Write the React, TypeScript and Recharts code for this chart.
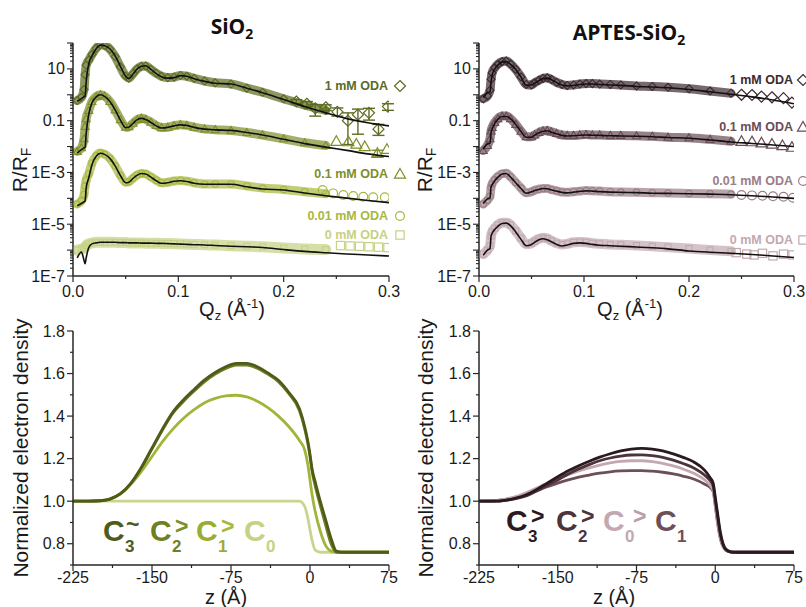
import { ComposedChart, Line, Scatter, XAxis, YAxis, ErrorBar } from "recharts";

// ---------- reflectivity (R/RF vs Qz), one Qz grid for both top panels ----------
const qGrid = [
  0.004, 0.008, 0.0105, 0.0115, 0.0125, 0.015, 0.018, 0.022, 0.026, 0.03, 0.035, 0.04, 0.045,
  0.05, 0.053, 0.057, 0.061, 0.065, 0.069, 0.074, 0.079, 0.084, 0.09, 0.096, 0.102, 0.108,
  0.115, 0.125, 0.135, 0.15, 0.165, 0.18, 0.2, 0.22, 0.24, 0.26, 0.28, 0.3,
];

// SiO2 fits (black lines)
const sioFit1 = [0.56, 0.71, 0.85, 0.89, 3.2, 16, 32, 60, 83, 79, 60, 32, 12.6, 5.2, 4.2, 6.3, 10, 12.6, 13.2, 9.5, 6.6, 5.0, 4.4, 4.6, 5.5, 5.2, 4.2, 3.3, 2.8, 2.6, 1.8, 1.2, 0.66, 0.35, 0.2, 0.12, 0.083, 0.063];
const sioFit01 = [5.6e-3, 7.6e-3, 8.9e-3, 9.5e-3, 0.032, 0.18, 0.48, 0.83, 1.0, 0.87, 0.55, 0.26, 0.105, 0.054, 0.056, 0.079, 0.11, 0.123, 0.112, 0.085, 0.063, 0.052, 0.055, 0.063, 0.069, 0.066, 0.055, 0.047, 0.044, 0.042, 0.035, 0.028, 0.019, 0.013, 9.5e-3, 7.1e-3, 5.2e-3, 4.1e-3];
const sioFit001 = [5.2e-5, 6.3e-5, 7.4e-5, 7.9e-5, 2.5e-4, 6.3e-4, 2.0e-3, 4.2e-3, 5.5e-3, 5.0e-3, 3.5e-3, 1.8e-3, 7.6e-4, 4.0e-4, 4.2e-4, 5.9e-4, 7.9e-4, 9.1e-4, 8.7e-4, 6.6e-4, 4.8e-4, 3.8e-4, 4.0e-4, 4.6e-4, 4.8e-4, 4.5e-4, 3.8e-4, 3.5e-4, 3.5e-4, 3.5e-4, 2.8e-4, 2.3e-4, 2.1e-4, 1.6e-4, 1.26e-4, 1.02e-4, 8.3e-5, 6.8e-5];
const sioFit0 = [5.0e-7, 8.5e-7, 4.0e-7, 3.0e-7, 5.0e-7, 1.26e-6, 1.74e-6, 1.9e-6, 2.0e-6, 2.0e-6, 2.0e-6, 2.0e-6, 1.95e-6, 1.95e-6, 1.9e-6, 1.9e-6, 1.9e-6, 1.86e-6, 1.86e-6, 1.86e-6, 1.82e-6, 1.82e-6, 1.78e-6, 1.74e-6, 1.7e-6, 1.66e-6, 1.62e-6, 1.58e-6, 1.51e-6, 1.41e-6, 1.35e-6, 1.26e-6, 1.05e-6, 8.9e-7, 7.9e-7, 7.1e-7, 6.5e-7, 5.9e-7];

// SiO2 measured points (dense band, up to Qz = 0.24)
const sioObs1 = [0.6, 0.8, 1.6, 6, 14, 22, 36, 62, 85, 80, 58, 30, 12, 5.3, 4.4, 6.5, 10, 12.6, 13, 9.5, 6.8, 5.2, 4.6, 4.8, 5.6, 5.2, 4.3, 3.4, 2.9, 2.6, 1.8, 1.25, 0.7, 0.4, 0.25];
const sioObs01 = [6.5e-3, 9e-3, 0.02, 0.06, 0.12, 0.25, 0.55, 0.85, 1.0, 0.88, 0.55, 0.26, 0.11, 0.056, 0.058, 0.08, 0.11, 0.125, 0.112, 0.087, 0.065, 0.054, 0.056, 0.064, 0.07, 0.066, 0.056, 0.048, 0.045, 0.042, 0.035, 0.028, 0.02, 0.014, 0.011];
const sioObs001 = [6e-5, 8e-5, 1.4e-4, 3e-4, 5e-4, 9e-4, 2.3e-3, 4.4e-3, 5.6e-3, 5.0e-3, 3.5e-3, 1.8e-3, 7.8e-4, 4.2e-4, 4.4e-4, 6e-4, 8e-4, 9.2e-4, 8.8e-4, 6.7e-4, 5e-4, 4e-4, 4.2e-4, 4.7e-4, 4.9e-4, 4.6e-4, 4e-4, 3.6e-4, 3.6e-4, 3.6e-4, 3e-4, 2.5e-4, 2.2e-4, 1.8e-4, 1.5e-4];
const sioObs0 = [1.0e-6, 1.1e-6, 1.2e-6, 1.3e-6, 1.5e-6, 1.75e-6, 1.9e-6, 2.0e-6, 2.0e-6, 2.0e-6, 2.0e-6, 2.0e-6, 1.95e-6, 1.95e-6, 1.9e-6, 1.9e-6, 1.9e-6, 1.87e-6, 1.86e-6, 1.85e-6, 1.83e-6, 1.82e-6, 1.8e-6, 1.77e-6, 1.74e-6, 1.7e-6, 1.66e-6, 1.62e-6, 1.56e-6, 1.48e-6, 1.42e-6, 1.35e-6, 1.2e-6, 1.1e-6, 1.05e-6];

// SiO2 high-Qz points (sparse, big open symbols)
const sioTail1 = [
  { q: 0.212, v: 0.55, e: [0.1, 0.1] }, { q: 0.222, v: 0.45, e: [0.1, 0.1] },
  { q: 0.23, v: 0.3, e: [0.15, 0.12] }, { q: 0.24, v: 0.33, e: [0.08, 0.08] },
  { q: 0.251, v: 0.22, e: [0.07, 0.09] }, { q: 0.261, v: 0.1, e: [0.088, 0.1] },
  { q: 0.2705, v: 0.17, e: [0.14, 0.11] }, { q: 0.281, v: 0.2, e: [0.095, 0.1] },
  { q: 0.29, v: 0.047, e: [0.02, 0.025] }, { q: 0.299, v: 0.35, e: [0.1, 0.1] },
];
const sioTail01 = [
  { q: 0.25, v: 0.016 }, { q: 0.2614, v: 0.0155 }, { q: 0.269, v: 0.0126 },
  { q: 0.277, v: 0.01 }, { q: 0.289, v: 0.0055, e: [0.0015, 0.0017] }, { q: 0.298, v: 0.0079 },
];
const sioTail001 = [
  { q: 0.237, v: 2.1e-4 }, { q: 0.247, v: 1.55e-4 }, { q: 0.2566, v: 1.35e-4 }, { q: 0.266, v: 1.23e-4 },
  { q: 0.2756, v: 1.15e-4 }, { q: 0.285, v: 1.1e-4 }, { q: 0.296, v: 1.1e-4 },
];
const sioTail0 = [
  { q: 0.254, v: 1.5e-6 }, { q: 0.263, v: 1.45e-6 }, { q: 0.272, v: 1.4e-6 },
  { q: 0.281, v: 1.35e-6 }, { q: 0.29, v: 1.3e-6 }, { q: 0.299, v: 1.25e-6 },
];

// APTES-SiO2 fits
const apFit1 = [0.79, 1.2, 1.3, 3.2, 5.6, 10, 14, 18.6, 19, 15, 9.5, 4.8, 2.3, 2.4, 2.8, 3.5, 4.2, 4.4, 3.8, 2.95, 2.4, 2.2, 2.3, 2.5, 2.6, 2.6, 2.5, 2.4, 2.3, 2.1, 2.0, 1.86, 1.6, 1.3, 1.05, 0.83, 0.63, 0.45];
const apFit01 = [7.9e-3, 0.0126, 0.0135, 0.035, 0.047, 0.079, 0.115, 0.145, 0.145, 0.12, 0.071, 0.038, 0.023, 0.023, 0.0275, 0.034, 0.039, 0.041, 0.036, 0.031, 0.027, 0.0257, 0.026, 0.0275, 0.028, 0.0275, 0.027, 0.026, 0.0257, 0.025, 0.024, 0.0224, 0.021, 0.018, 0.015, 0.0132, 0.0115, 0.01];
const apFit001 = [6.3e-5, 9.5e-5, 1.05e-4, 2.8e-4, 3.3e-4, 4.8e-4, 6.5e-4, 8.7e-4, 9.1e-4, 6.6e-4, 4.0e-4, 2.4e-4, 1.58e-4, 1.78e-4, 2.0e-4, 2.2e-4, 2.4e-4, 2.35e-4, 2.1e-4, 1.9e-4, 1.7e-4, 1.62e-4, 1.74e-4, 1.86e-4, 1.95e-4, 1.9e-4, 1.82e-4, 1.74e-4, 1.7e-4, 1.66e-4, 1.58e-4, 1.55e-4, 1.51e-4, 1.45e-4, 1.38e-4, 1.26e-4, 1.12e-4, 1.0e-4];
const apFit0 = [6.3e-7, 1.0e-6, 1.15e-6, 3.5e-6, 4.5e-6, 6.3e-6, 8.3e-6, 1.07e-5, 1.1e-5, 8.9e-6, 5.0e-6, 2.6e-6, 1.48e-6, 1.66e-6, 2.0e-6, 2.5e-6, 2.75e-6, 2.5e-6, 2.1e-6, 1.66e-6, 1.45e-6, 1.58e-6, 1.82e-6, 1.9e-6, 1.82e-6, 1.66e-6, 1.55e-6, 1.48e-6, 1.41e-6, 1.32e-6, 1.23e-6, 1.12e-6, 9.3e-7, 8.3e-7, 7.6e-7, 6.8e-7, 5.9e-7, 5.2e-7];

// APTES-SiO2 measured points
const apObs1 = [0.7, 0.9, 1.5, 4, 7, 11, 15, 19, 20, 15.5, 9.5, 4.9, 2.5, 2.4, 2.9, 3.6, 4.3, 4.5, 3.9, 3.0, 2.5, 2.3, 2.4, 2.6, 2.7, 2.7, 2.6, 2.5, 2.4, 2.2, 2.1, 1.95, 1.7, 1.4, 1.15];
const apObs01 = [7e-3, 0.011, 0.02, 0.04, 0.055, 0.085, 0.12, 0.15, 0.15, 0.12, 0.072, 0.039, 0.024, 0.024, 0.028, 0.035, 0.04, 0.042, 0.037, 0.032, 0.028, 0.027, 0.027, 0.028, 0.029, 0.028, 0.028, 0.027, 0.027, 0.026, 0.025, 0.023, 0.022, 0.019, 0.016];
const apObs001 = [6e-5, 8.5e-5, 1.2e-4, 2.6e-4, 3.6e-4, 5.2e-4, 7e-4, 9e-4, 9.3e-4, 6.8e-4, 4.1e-4, 2.5e-4, 1.65e-4, 1.8e-4, 2.05e-4, 2.25e-4, 2.4e-4, 2.4e-4, 2.15e-4, 1.95e-4, 1.75e-4, 1.7e-4, 1.8e-4, 1.9e-4, 2.0e-4, 1.95e-4, 1.9e-4, 1.8e-4, 1.75e-4, 1.7e-4, 1.65e-4, 1.6e-4, 1.55e-4, 1.5e-4, 1.45e-4];
const apObs0 = [7e-7, 1.0e-6, 1.5e-6, 3.5e-6, 5e-6, 7e-6, 9.5e-6, 1.15e-5, 1.15e-5, 9.5e-6, 5.5e-6, 2.9e-6, 1.7e-6, 1.85e-6, 2.2e-6, 2.7e-6, 3.0e-6, 2.8e-6, 2.3e-6, 1.85e-6, 1.65e-6, 1.75e-6, 2.0e-6, 2.05e-6, 2.0e-6, 1.85e-6, 1.75e-6, 1.65e-6, 1.6e-6, 1.5e-6, 1.4e-6, 1.3e-6, 1.15e-6, 1.0e-6, 9e-7];

const apTail1 = [
  { q: 0.25, v: 1.0 }, { q: 0.26, v: 0.98 }, { q: 0.269, v: 0.85 },
  { q: 0.279, v: 0.8 }, { q: 0.29, v: 0.74 }, { q: 0.298, v: 0.5 },
];
const apTail01 = [
  { q: 0.25, v: 0.016 }, { q: 0.26, v: 0.0155 }, { q: 0.269, v: 0.014 },
  { q: 0.279, v: 0.0125 }, { q: 0.289, v: 0.011 }, { q: 0.298, v: 0.0095 },
];
const apTail001 = [
  { q: 0.25, v: 1.35e-4 }, { q: 0.26, v: 1.3e-4 }, { q: 0.27, v: 1.25e-4 },
  { q: 0.28, v: 1.2e-4 }, { q: 0.29, v: 1.15e-4 }, { q: 0.299, v: 1.05e-4 },
];
const apTail0 = [
  { q: 0.245, v: 8e-7 }, { q: 0.255, v: 7e-7 }, { q: 0.262, v: 6.5e-7 }, { q: 0.27, v: 7.5e-7 },
  { q: 0.28, v: 6e-7 }, { q: 0.29, v: 7e-7 }, { q: 0.299, v: 6.5e-7 },
];

// ---------- electron density profiles ----------
const zGrid = [-225, -210, -200, -190, -180, -170, -160, -150, -140, -130, -120, -110, -100, -90, -80, -70, -60, -50, -40, -30, -20, -10, -5, -2, 0, 2, 5, 10, 15, 20, 25, 30, 40, 75];

const sioC3 = [1.0, 1.0, 1.002, 1.01, 1.035, 1.085, 1.16, 1.25, 1.34, 1.42, 1.477, 1.525, 1.57, 1.605, 1.632, 1.648, 1.648, 1.632, 1.603, 1.568, 1.51, 1.435, 1.35, 1.28, 1.22, 1.15, 1.09, 0.995, 0.91, 0.825, 0.765, 0.76, 0.76, 0.76];
const sioC2 = [1.0, 1.0, 1.002, 1.01, 1.034, 1.083, 1.157, 1.246, 1.335, 1.415, 1.47, 1.518, 1.562, 1.597, 1.624, 1.64, 1.64, 1.625, 1.597, 1.562, 1.505, 1.425, 1.34, 1.27, 1.21, 1.14, 1.07, 0.975, 0.885, 0.8, 0.76, 0.76, 0.76, 0.76];
const sioC1 = [1.0, 1.0, 1.002, 1.01, 1.034, 1.08, 1.14, 1.21, 1.28, 1.34, 1.39, 1.43, 1.463, 1.483, 1.495, 1.498, 1.49, 1.47, 1.44, 1.4, 1.35, 1.285, 1.24, 1.17, 1.1, 1.03, 0.95, 0.855, 0.79, 0.765, 0.76, 0.76, 0.76, 0.76];
const sioC0 = [1.0, 1.0, 1.0, 1.0, 1.0, 1.0, 1.0, 1.0, 1.0, 1.0, 1.0, 1.0, 1.0, 1.0, 1.0, 1.0, 1.0, 1.0, 1.0, 1.0, 1.0, 1.0, 0.975, 0.92, 0.865, 0.815, 0.77, 0.76, 0.76, 0.76, 0.76, 0.76, 0.76, 0.76];

const apC3 = [1.0, 1.0, 1.004, 1.014, 1.03, 1.055, 1.085, 1.115, 1.143, 1.167, 1.188, 1.207, 1.223, 1.236, 1.245, 1.248, 1.245, 1.236, 1.222, 1.205, 1.183, 1.145, 1.112, 1.085, 1.02, 0.95, 0.85, 0.775, 0.762, 0.76, 0.76, 0.76, 0.76, 0.76];
const apC2 = [1.0, 1.0, 1.004, 1.012, 1.025, 1.048, 1.075, 1.1, 1.128, 1.152, 1.172, 1.19, 1.203, 1.212, 1.217, 1.218, 1.214, 1.206, 1.193, 1.176, 1.155, 1.122, 1.097, 1.072, 1.005, 0.935, 0.84, 0.772, 0.761, 0.76, 0.76, 0.76, 0.76, 0.76];
const apC0 = [1.0, 1.002, 1.01, 1.022, 1.04, 1.062, 1.085, 1.105, 1.125, 1.142, 1.157, 1.17, 1.18, 1.187, 1.19, 1.19, 1.186, 1.178, 1.166, 1.15, 1.13, 1.1, 1.075, 1.05, 0.985, 0.91, 0.825, 0.77, 0.761, 0.76, 0.76, 0.76, 0.76, 0.76];
const apC1 = [1.0, 1.002, 1.008, 1.018, 1.033, 1.05, 1.068, 1.085, 1.1, 1.113, 1.123, 1.132, 1.138, 1.142, 1.144, 1.144, 1.141, 1.136, 1.128, 1.117, 1.103, 1.08, 1.065, 1.045, 0.98, 0.905, 0.82, 0.77, 0.761, 0.76, 0.76, 0.76, 0.76, 0.76];

// ---------- ticks ----------
const qTicks = [0, 0.05, 0.1, 0.15, 0.2, 0.25, 0.3];
const qTickLabels: Record<string, string> = { "0": "0.0", "0.1": "0.1", "0.2": "0.2", "0.3": "0.3" };
const logMajor = [1e-7, 1e-5, 1e-3, 0.1, 10];
const logMajorLabels = ["1E-7", "1E-5", "1E-3", "0.1", "10"];
const logDecades = [1e-7, 1e-6, 1e-5, 1e-4, 1e-3, 1e-2, 0.1, 1, 10, 100];
const logMinor: number[] = [];
for (let e = -7; e < 2; e++) for (let m = 2; m <= 9; m++) logMinor.push(m * Math.pow(10, e));
const logTicks = [...logDecades, ...logMinor];
const zTicks = [-225, -187.5, -150, -112.5, -75, -37.5, 0, 37.5, 75];
const densTicks = [0.7, 0.8, 0.9, 1.0, 1.1, 1.2, 1.3, 1.4, 1.5, 1.6, 1.7, 1.8];
const densMajor = [0.8, 1.0, 1.2, 1.4, 1.6, 1.8];
const densMajorLabels = ["0.8", "1.0", "1.2", "1.4", "1.6", "1.8"];

const AX = "#262626";
const FONT = "'Liberation Sans', Arial, sans-serif";

function Mark({ cx, cy, kind, size, color, sw = 1.2 }: any) {
  if (cx == null || cy == null || isNaN(cy)) return <g />;
  const h = size / 2;
  const common = { fill: "none", stroke: color, strokeWidth: sw };
  if (kind === "diamond")
    return <polygon points={`${cx},${cy - h} ${cx + h},${cy} ${cx},${cy + h} ${cx - h},${cy}`} {...common} />;
  if (kind === "tri")
    return <polygon points={`${cx},${cy - h} ${cx + h},${cy + h * 0.75} ${cx - h},${cy + h * 0.75}`} {...common} />;
  if (kind === "circle") return <circle cx={cx} cy={cy} r={h * 0.8} {...common} />;
  return <rect x={cx - h * 0.75} y={cy - h * 0.75} width={h * 1.5} height={h * 1.5} {...common} />;
}

function LogTick({ y, payload, axisX }: any) {
  const lv = Math.log10(payload.value);
  const decade = Math.abs(lv - Math.round(lv)) < 1e-6;
  const li = logMajor.findIndex((m) => Math.abs(Math.log10(m) - lv) < 1e-6);
  return (
    <g>
      <line x1={axisX} x2={axisX - (decade ? 6 : 3)} y1={y} y2={y} stroke={AX} strokeWidth={1.1} />
      {li >= 0 && (
        <text x={axisX - 8} y={y + 5.5} textAnchor="end" fontSize={16} fontFamily={FONT} fill="#1a1a1a">
          {logMajorLabels[li]}
        </text>
      )}
    </g>
  );
}

function DensTick({ y, payload, axisX }: any) {
  const v = payload.value;
  const li = densMajor.findIndex((m) => Math.abs(m - v) < 1e-6);
  return (
    <g>
      <line x1={axisX} x2={axisX - (li >= 0 ? 6 : 3)} y1={y} y2={y} stroke={AX} strokeWidth={1.2} />
      {li >= 0 && (
        <text x={axisX - 8} y={y + 5.5} textAnchor="end" fontSize={16} fontFamily={FONT} fill="#1a1a1a">
          {densMajorLabels[li]}
        </text>
      )}
    </g>
  );
}

function QTick({ x, payload, axisY }: any) {
  const lbl = qTickLabels[String(payload.value)];
  return (
    <g>
      <line x1={x} x2={x} y1={axisY} y2={axisY + (lbl ? 6 : 3)} stroke={AX} strokeWidth={1.2} />
      {lbl && (
        <text x={x} y={axisY + 21} textAnchor="middle" fontSize={16} fontFamily={FONT} fill="#1a1a1a">
          {lbl}
        </text>
      )}
    </g>
  );
}

function ZTick({ x, payload, axisY }: any) {
  const v = payload.value;
  const major = Number.isInteger(v);
  return (
    <g>
      <line x1={x} x2={x} y1={axisY} y2={axisY + (major ? 6 : 3)} stroke={AX} strokeWidth={1.2} />
      {major && (
        <text x={x} y={axisY + 18} textAnchor="middle" fontSize={16} fontFamily={FONT} fill="#1a1a1a">
          {v}
        </text>
      )}
    </g>
  );
}

type SeriesDef = { key: string; fit: number[]; obs: number[]; tail: any[]; color: string; kind: string; band: number };

function ReflPanel({ left, width, yw, mr, series }: { left: number; width: number; yw: number; mr: number; series: SeriesDef[] }) {
  const rows = qGrid.map((q, i) => {
    const r: any = { q };
    series.forEach((s) => {
      r["f" + s.key] = s.fit[i];
      r["o" + s.key] = s.obs[i];
    });
    return r;
  });
  const xProps = { dataKey: "q", type: "number" as const, domain: [0, 0.3], allowDataOverflow: true };
  const yProps = { type: "number" as const, scale: "log" as const, domain: [1e-7, 100], allowDataOverflow: true };
  return (
    <div style={{ position: "absolute", left, top: 0, width, height: 300 }}>
      {/* measured data: bands of open symbols + sparse high-Qz points */}
      <div style={{ position: "absolute", left: 0, top: 0 }}>
        <ComposedChart width={width} height={300} data={rows} margin={{ top: 43, right: mr, bottom: 0, left: 0 }}>
          <XAxis
            {...xProps}
            ticks={qTicks}
            interval={0}
            height={24}
            axisLine={{ stroke: AX, strokeWidth: 1.5 }}
            tickLine={false}
            tick={(p: any) => <QTick {...p} axisY={276} />}
          />
          <YAxis
            {...yProps}
            ticks={logTicks}
            interval={0}
            width={yw}
            axisLine={{ stroke: AX, strokeWidth: 1.5 }}
            tickLine={false}
            tick={(p: any) => <LogTick {...p} axisX={yw} />}
          />
          {series.map((s) => (
            <Line
              key={"o" + s.key}
              dataKey={"o" + s.key}
              type="monotone"
              stroke={s.color}
              strokeOpacity={0.7}
              strokeWidth={s.band}
              strokeLinecap="round"
              strokeLinejoin="round"
              isAnimationActive={false}
              activeDot={false}
              dot={(p: any) => <Mark key={"d" + s.key + p.index} cx={p.cx} cy={p.cy} kind={s.kind} size={8} color={s.color} sw={1.1} />}
            />
          ))}
          {series.map((s) => (
            <Scatter
              key={"t" + s.key}
              data={s.tail}
              dataKey="v"
              isAnimationActive={false}
              shape={(p: any) => <Mark cx={p.cx} cy={p.cy} kind={s.kind} size={11} color={s.color} sw={1.2} />}
            >
              {s.tail.some((d) => d.e) && <ErrorBar dataKey="e" direction="y" width={6} stroke={s.color} strokeWidth={1.4} />}
            </Scatter>
          ))}
        </ComposedChart>
      </div>
      {/* model fits drawn on top */}
      <div style={{ position: "absolute", left: 0, top: 0 }}>
        <ComposedChart width={width} height={300} data={rows} margin={{ top: 43, right: mr, bottom: 24, left: yw }}>
          <XAxis {...xProps} hide />
          <YAxis {...yProps} hide />
          {series.map((s) => (
            <Line
              key={"f" + s.key}
              dataKey={"f" + s.key}
              type="monotone"
              stroke="#111"
              strokeWidth={1.6}
              dot={false}
              activeDot={false}
              isAnimationActive={false}
            />
          ))}
        </ComposedChart>
      </div>
    </div>
  );
}

type DensDef = { key: string; vals: number[]; color: string };

function DensPanel({ left, width, yw, mr, series }: { left: number; width: number; yw: number; mr: number; series: DensDef[] }) {
  const rows = zGrid.map((z, i) => {
    const r: any = { z };
    series.forEach((s) => (r[s.key] = s.vals[i]));
    return r;
  });
  return (
    <div style={{ position: "absolute", left, top: 300, width, height: 300 }}>
      <ComposedChart width={width} height={300} data={rows} margin={{ top: 31, right: mr, bottom: 0, left: 0 }}>
        <XAxis
          dataKey="z"
          type="number"
          domain={[-225, 75]}
          allowDataOverflow
          ticks={zTicks}
          interval={0}
          height={35}
          axisLine={{ stroke: AX, strokeWidth: 1.5 }}
          tickLine={false}
          tick={(p: any) => <ZTick {...p} axisY={265} />}
        />
        <YAxis
          type="number"
          domain={[0.7, 1.8]}
          allowDataOverflow
          ticks={densTicks}
          interval={0}
          width={yw}
          axisLine={{ stroke: AX, strokeWidth: 1.5 }}
          tickLine={false}
          tick={(p: any) => <DensTick {...p} axisX={yw} />}
        />
        {series.map((s) => (
          <Line
            key={s.key}
            dataKey={s.key}
            type="monotone"
            stroke={s.color}
            strokeWidth={2.8}
            dot={false}
            activeDot={false}
            isAnimationActive={false}
          />
        ))}
      </ComposedChart>
    </div>
  );
}

const sioColors = ["#5b6b1f", "#7d8f29", "#a8b83d", "#c6d184"];
const apColors = ["#3d2a2f", "#6a4c55", "#9b7d85", "#c2a9b0"];

const sioSeries: SeriesDef[] = [
  { key: "s0", fit: sioFit0, obs: sioObs0, tail: sioTail0, color: sioColors[3], kind: "square", band: 11 },
  { key: "s001", fit: sioFit001, obs: sioObs001, tail: sioTail001, color: sioColors[2], kind: "circle", band: 9 },
  { key: "s01", fit: sioFit01, obs: sioObs01, tail: sioTail01, color: sioColors[1], kind: "tri", band: 9 },
  { key: "s1", fit: sioFit1, obs: sioObs1, tail: sioTail1, color: sioColors[0], kind: "diamond", band: 9 },
];
const apSeries: SeriesDef[] = [
  { key: "a0", fit: apFit0, obs: apObs0, tail: apTail0, color: apColors[3], kind: "square", band: 10 },
  { key: "a001", fit: apFit001, obs: apObs001, tail: apTail001, color: apColors[2], kind: "circle", band: 9 },
  { key: "a01", fit: apFit01, obs: apObs01, tail: apTail01, color: apColors[1], kind: "tri", band: 9 },
  { key: "a1", fit: apFit1, obs: apObs1, tail: apTail1, color: apColors[0], kind: "diamond", band: 9 },
];

const sioDens: DensDef[] = [
  { key: "c0", vals: sioC0, color: "#c9d48d" },
  { key: "c1", vals: sioC1, color: "#a2b43a" },
  { key: "c2", vals: sioC2, color: "#6f8024" },
  { key: "c3", vals: sioC3, color: "#4d5c18" },
];
const apDens: DensDef[] = [
  { key: "c1", vals: apC1, color: "#6d4f57" },
  { key: "c0", vals: apC0, color: "#c3a9af" },
  { key: "c2", vals: apC2, color: "#4d343b" },
  { key: "c3", vals: apC3, color: "#2a1a1f" },
];

const sioLabels = [
  { t: "1 mM ODA", y: 90, my: 86, kind: "diamond", c: sioColors[0] },
  { t: "0.1 mM ODA", y: 178, my: 174, kind: "tri", c: sioColors[1] },
  { t: "0.01 mM ODA", y: 220, my: 216, kind: "circle", c: sioColors[2] },
  { t: "0 mM ODA", y: 239, my: 235, kind: "square", c: sioColors[3] },
];
const apLabels = [
  { t: "1 mM ODA", y: 84, my: 80, kind: "diamond", c: apColors[0] },
  { t: "0.1 mM ODA", y: 131, my: 127, kind: "tri", c: apColors[1] },
  { t: "0.01 mM ODA", y: 185, my: 181, kind: "circle", c: apColors[2] },
  { t: "0 mM ODA", y: 244, my: 240, kind: "square", c: apColors[3] },
];

function Overlay() {
  const big = { fontFamily: FONT, fontWeight: 700, fontSize: 30 } as const;
  const sub = { fontFamily: FONT, fontWeight: 700, fontSize: 17 } as const;
  const sym = { fontFamily: FONT, fontWeight: 700, fontSize: 23 } as const;
  return (
    <svg width={806} height={607} style={{ position: "absolute", left: 0, top: 0, pointerEvents: "none" }}>
      {/* titles */}
      <text x={232} y={34} textAnchor="middle" fontFamily="'Open Sans', sans-serif" fontWeight={700} fontSize={21} fill="#111">
        SiO<tspan fontSize={14} dy={5}>2</tspan>
      </text>
      <text x={629} y={40} textAnchor="middle" fontFamily="'Open Sans', sans-serif" fontWeight={700} fontSize={21} fill="#111">
        APTES-SiO<tspan fontSize={14} dy={5}>2</tspan>
      </text>

      {/* axis titles */}
      {[27, 432].map((x) => (
        <text key={"r" + x} transform={`translate(${x},170) rotate(-90)`} textAnchor="middle" fontFamily={FONT} fontSize={21} fill="#1a1a1a">
          R/R<tspan fontSize={14} dy={4}>F</tspan>
        </text>
      ))}
      {[232, 630].map((x) => (
        <text key={"q" + x} x={x} y={316} textAnchor="middle" fontFamily={FONT} fontSize={20} fill="#1a1a1a">
          Q<tspan fontSize={13} dy={4}>z</tspan>
          <tspan dy={-4}> (Å</tspan>
          <tspan fontSize={13} dy={-8}>-1</tspan>
          <tspan dy={8}>)</tspan>
        </text>
      ))}
      {[28, 433].map((x) => (
        <text key={"n" + x} transform={`translate(${x},448) rotate(-90)`} textAnchor="middle" fontFamily={FONT} fontSize={21} fill="#1a1a1a">
          Normalized electron density
        </text>
      ))}
      {[226, 614].map((x) => (
        <text key={"z" + x} x={x} y={604} textAnchor="middle" fontFamily={FONT} fontSize={20} fill="#1a1a1a">
          z (Å)
        </text>
      ))}

      {/* series labels */}
      {sioLabels.map((l) => (
        <g key={"sl" + l.t}>
          <text x={388} y={l.y} textAnchor="end" fontFamily={FONT} fontWeight={700} fontSize={12.5} fill={l.c}>
            {l.t}
          </text>
          <Mark cx={400} cy={l.my} kind={l.kind} size={11} color={l.c} sw={1.2} />
        </g>
      ))}
      {apLabels.map((l) => (
        <g key={"al" + l.t}>
          <text x={793} y={l.y} textAnchor="end" fontFamily={FONT} fontWeight={700} fontSize={12.5} fill={l.c}>
            {l.t}
          </text>
          <Mark cx={803} cy={l.my} kind={l.kind} size={11} color={l.c} sw={1.2} />
        </g>
      ))}

      {/* density legends */}
      <g>
        <text x={103} y={541} {...big} fill="#4d5c18">C</text>
        <text x={125} y={552} {...sub} fill="#4d5c18">3</text>
        <text x={126} y={532} {...sym} fill="#4d5c18">~</text>
        <text x={150} y={541} {...big} fill="#6f8024">C</text>
        <text x={172} y={552} {...sub} fill="#6f8024">2</text>
        <text x={175} y={534} {...sym} fill="#7d8f29">&gt;</text>
        <text x={196} y={541} {...big} fill="#9aad33">C</text>
        <text x={218} y={552} {...sub} fill="#9aad33">1</text>
        <text x={221} y={534} {...sym} fill="#a8b83d">&gt;</text>
        <text x={244} y={541} {...big} fill="#c6d184">C</text>
        <text x={266} y={552} {...sub} fill="#c6d184">0</text>
      </g>
      <g>
        <text x={506} y={531} {...big} fill="#2a1a1f">C</text>
        <text x={528} y={542} {...sub} fill="#2a1a1f">3</text>
        <text x={531} y={524} {...sym} fill="#2a1a1f">&gt;</text>
        <text x={556} y={531} {...big} fill="#4d343b">C</text>
        <text x={578} y={542} {...sub} fill="#4d343b">2</text>
        <text x={581} y={524} {...sym} fill="#4d343b">&gt;</text>
        <text x={603} y={531} {...big} fill="#c3a9af">C</text>
        <text x={625} y={542} {...sub} fill="#c3a9af">0</text>
        <text x={633} y={524} {...sym} fill="#b89ea5">&gt;</text>
        <text x={655} y={531} {...big} fill="#6d4f57">C</text>
        <text x={677} y={542} {...sub} fill="#6d4f57">1</text>
      </g>
    </svg>
  );
}

export default function App() {
  return (
    <div style={{ position: "absolute", left: 0, top: 0, width: 806, height: 607, background: "#fff", overflow: "hidden" }}>
      <ReflPanel left={0} width={400} yw={73} mr={11} series={sioSeries} />
      <ReflPanel left={400} width={406} yw={79} mr={12} series={apSeries} />
      <DensPanel left={0} width={400} yw={73} mr={11} series={sioDens} />
      <DensPanel left={400} width={406} yw={79} mr={12} series={apDens} />
      <Overlay />
    </div>
  );
}
